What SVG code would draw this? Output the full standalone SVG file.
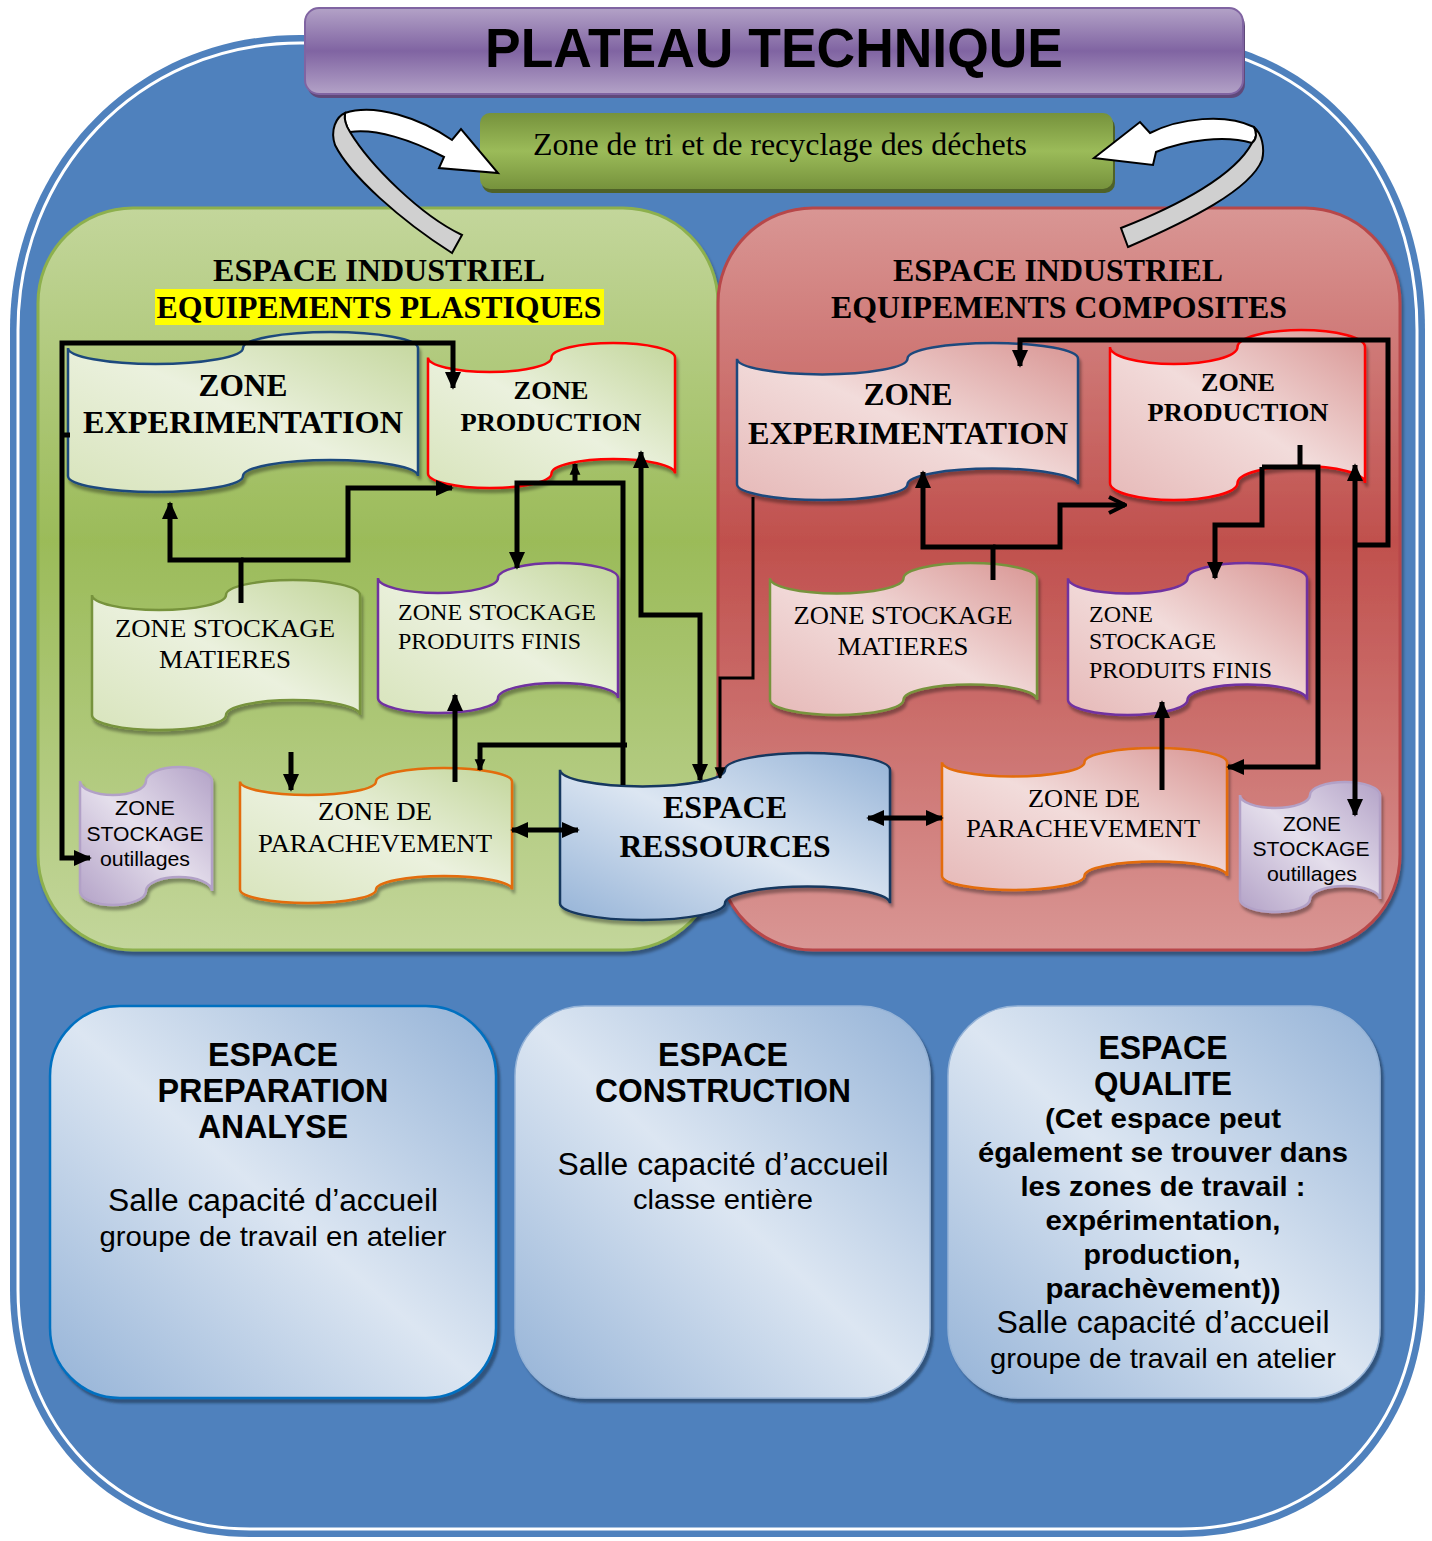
<svg xmlns="http://www.w3.org/2000/svg" width="1432" height="1541" viewBox="0 0 1432 1541">
  <defs>
    <style>
      .tape { stroke-width: 2.5; filter: url(#sh); }
      .tb { font-family: "Liberation Serif", "Times New Roman", serif; font-weight: bold; fill: #000; text-anchor: middle; }
      .tr { font-family: "Liberation Serif", "Times New Roman", serif; fill: #000; text-anchor: middle; }
      .sb { font-family: "Liberation Sans", Arial, sans-serif; font-weight: bold; fill: #000; text-anchor: middle; }
      .sr { font-family: "Liberation Sans", Arial, sans-serif; fill: #000; text-anchor: middle; }
      .left { text-anchor: start; }
      .conn { fill: none; stroke: #000; stroke-width: 5; stroke-linejoin: miter; }
      .thin { stroke-width: 3; }
      .room { filter: url(#shb); }
    </style>
    <linearGradient id="gNode" x1="1" y1="0" x2="0" y2="1">
      <stop offset="0" stop-color="#C3D69B"/>
      <stop offset="0.5" stop-color="#EBF1DE"/>
      <stop offset="1" stop-color="#D8E4BC"/>
    </linearGradient>
    <linearGradient id="rNode" x1="1" y1="0" x2="0" y2="1">
      <stop offset="0" stop-color="#D99694"/>
      <stop offset="0.5" stop-color="#F2DCDB"/>
      <stop offset="1" stop-color="#E6B9B8"/>
    </linearGradient>
    <linearGradient id="bNode" x1="1" y1="0" x2="0" y2="1">
      <stop offset="0" stop-color="#95B3D7"/>
      <stop offset="0.5" stop-color="#DCE6F2"/>
      <stop offset="1" stop-color="#95B3D7"/>
    </linearGradient>
    <linearGradient id="lNode" x1="1" y1="0" x2="0" y2="1">
      <stop offset="0" stop-color="#B3A2C7"/>
      <stop offset="0.5" stop-color="#E5DFEC"/>
      <stop offset="1" stop-color="#B3A2C7"/>
    </linearGradient>
    <linearGradient id="room" x1="0" y1="1" x2="1" y2="0">
      <stop offset="0" stop-color="#95B3D7"/>
      <stop offset="0.5" stop-color="#DCE6F2"/>
      <stop offset="1" stop-color="#95B3D7"/>
    </linearGradient>
    <linearGradient id="panelG" x1="0" y1="0" x2="0" y2="1">
      <stop offset="0" stop-color="#C3D69B"/>
      <stop offset="0.45" stop-color="#9BBB59"/>
      <stop offset="1" stop-color="#C3D69B"/>
    </linearGradient>
    <linearGradient id="panelR" x1="0" y1="0" x2="0" y2="1">
      <stop offset="0" stop-color="#D99694"/>
      <stop offset="0.45" stop-color="#C0504D"/>
      <stop offset="1" stop-color="#D99694"/>
    </linearGradient>
    <linearGradient id="titleG" x1="0" y1="0" x2="0" y2="1">
      <stop offset="0" stop-color="#B3A2C7"/>
      <stop offset="0.5" stop-color="#8064A2"/>
      <stop offset="1" stop-color="#B3A2C7"/>
    </linearGradient>
    <linearGradient id="triG" x1="0" y1="0" x2="0" y2="1">
      <stop offset="0" stop-color="#76923C"/>
      <stop offset="0.5" stop-color="#9BBB59"/>
      <stop offset="1" stop-color="#76923C"/>
    </linearGradient>
    <filter id="sh" x="-10%" y="-10%" width="125%" height="130%">
      <feDropShadow dx="2" dy="4" stdDeviation="1.5" flood-color="#000" flood-opacity="0.35"/>
    </filter>
    <filter id="shb" x="-10%" y="-10%" width="125%" height="125%">
      <feDropShadow dx="3" dy="4" stdDeviation="1" flood-color="#243F60" flood-opacity="0.7"/>
    </filter>
    <marker id="ah" viewBox="0 0 10 10" refX="9" refY="5" markerUnits="userSpaceOnUse" markerWidth="18" markerHeight="18" orient="auto-start-reverse">
      <path d="M0,0.5 L10,5 L0,9.5 z" fill="#000"/>
    </marker>
    <marker id="ahs" viewBox="0 0 10 10" refX="9" refY="5" markerUnits="userSpaceOnUse" markerWidth="12" markerHeight="12" orient="auto-start-reverse">
      <path d="M0,0.5 L10,5 L0,9.5 z" fill="#000"/>
    </marker>
    <marker id="chev" viewBox="0 0 10 10" refX="9" refY="5" markerUnits="userSpaceOnUse" markerWidth="20" markerHeight="20" orient="auto">
      <path d="M1,1 L9,5 L1,9" fill="none" stroke="#000" stroke-width="2"/>
    </marker>
  </defs>

  <rect width="1432" height="1541" fill="#fff"/>

  <!-- outer frame -->
  <path d="M300,35 H1150 C1320,35 1425,170 1425,330 V1290 C1425,1430 1330,1537 1180,1537 H250 C110,1537 10,1430 10,1290 V330 C10,170 130,35 300,35 Z" fill="#4F81BD"/>
  <path d="M300,43 H1150 C1314,43 1417,173 1417,330 V1290 C1417,1424 1325,1529 1180,1529 H250 C115,1529 18,1425 18,1290 V330 C18,175 135,43 300,43 Z" fill="none" stroke="#fff" stroke-width="3"/>

  <!-- title banner -->
  <g id="title">
    <rect x="307" y="12" width="938" height="86" rx="14" fill="#5F497A"/>
    <rect x="305" y="8" width="938" height="86" rx="14" fill="url(#titleG)" stroke="#8064A2" stroke-width="2"/>
    <text class="sb" x="774" y="67" font-size="56" textLength="578" lengthAdjust="spacingAndGlyphs">PLATEAU TECHNIQUE</text>
  </g>

  <!-- waste sorting zone -->
  <g id="zone-tri">
    <rect x="482" y="117" width="633" height="76" rx="10" fill="#4F6228"/>
    <rect x="480" y="113" width="633" height="76" rx="10" fill="url(#triG)"/>
    <text class="tr" x="780" y="155" font-size="31" textLength="494" lengthAdjust="spacingAndGlyphs">Zone de tri et de recyclage des déchets</text>
  </g>

  <!-- industrial panels -->
  <g id="panel-plastiques">
    <rect x="38" y="208" width="680" height="742" rx="95" fill="url(#panelG)" stroke="#8DB04E" stroke-width="3" filter="url(#sh)"/>
    <rect x="155" y="289" width="449" height="36" fill="#FFFF00"/>
    <text class="tb" x="379" y="281" font-size="32" textLength="332" lengthAdjust="spacingAndGlyphs">ESPACE INDUSTRIEL</text>
    <text class="tb" x="379" y="318" font-size="32" textLength="445" lengthAdjust="spacingAndGlyphs">EQUIPEMENTS PLASTIQUES</text>
  </g>
  <g id="panel-composites">
    <rect x="718" y="208" width="682" height="742" rx="95" fill="url(#panelR)" stroke="#B7474A" stroke-width="3" filter="url(#sh)"/>
    <text class="tb" x="1058" y="281" font-size="32" textLength="330" lengthAdjust="spacingAndGlyphs">ESPACE INDUSTRIEL</text>
    <text class="tb" x="1059" y="318" font-size="32" textLength="456" lengthAdjust="spacingAndGlyphs">EQUIPEMENTS COMPOSITES</text>
  </g>

  <!-- plastics zones -->
  <g id="p-experimentation">
    <path class="tape" d="M68,348 A87.5,16 0 0 0 243,348 A87.5,16 0 0 1 418,348 L418,476 A87.5,16 0 0 0 243,476 A87.5,16 0 0 1 68,476 Z" fill="url(#gNode)" stroke="#1F497D"/>
    <text class="tb" x="243" y="396" font-size="32" textLength="89" lengthAdjust="spacingAndGlyphs">ZONE</text>
    <text class="tb" x="243" y="433" font-size="32" textLength="320" lengthAdjust="spacingAndGlyphs">EXPERIMENTATION</text>
  </g>
  <g id="p-production">
    <path class="tape" d="M428,357.5 A61.75,14.5 0 0 0 551.5,357.5 A61.75,14.5 0 0 1 675,357.5 L675,473.5 A61.75,14.5 0 0 0 551.5,473.5 A61.75,14.5 0 0 1 428,473.5 Z" fill="url(#gNode)" stroke="#FF0000"/>
    <text class="tb" x="551" y="399" font-size="26" textLength="75" lengthAdjust="spacingAndGlyphs">ZONE</text>
    <text class="tb" x="551" y="431" font-size="26" textLength="181" lengthAdjust="spacingAndGlyphs">PRODUCTION</text>
  </g>
  <g id="p-stock-matieres">
    <path class="tape" d="M92,595 A67,15 0 0 0 226,595 A67,15 0 0 1 360,595 L360,715 A67,15 0 0 0 226,715 A67,15 0 0 1 92,715 Z" fill="url(#gNode)" stroke="#77933C"/>
    <text class="tr" x="225" y="637" font-size="26" textLength="220" lengthAdjust="spacingAndGlyphs">ZONE STOCKAGE</text>
    <text class="tr" x="225" y="668" font-size="26" textLength="132" lengthAdjust="spacingAndGlyphs">MATIERES</text>
  </g>
  <g id="p-stock-produits">
    <path class="tape" d="M378,578 A60,15 0 0 0 498,578 A60,15 0 0 1 618,578 L618,698 A60,15 0 0 0 498,698 A60,15 0 0 1 378,698 Z" fill="url(#gNode)" stroke="#7030A0"/>
    <text class="tr left" x="398" y="620" font-size="24" textLength="198" lengthAdjust="spacingAndGlyphs">ZONE STOCKAGE</text>
    <text class="tr left" x="398" y="649" font-size="24" textLength="183" lengthAdjust="spacingAndGlyphs">PRODUITS FINIS</text>
  </g>
  <g id="p-stock-outillages">
    <path class="tape" d="M80,781 A33,14 0 0 0 146,781 A33,14 0 0 1 212,781 L212,891 A33,14 0 0 0 146,891 A33,14 0 0 1 80,891 Z" fill="url(#lNode)" stroke="#B2A1C7" stroke-width="3"/>
    <text class="sr" x="145" y="815" font-size="21" textLength="60" lengthAdjust="spacingAndGlyphs">ZONE</text>
    <text class="sr" x="145" y="841" font-size="21" textLength="117" lengthAdjust="spacingAndGlyphs">STOCKAGE</text>
    <text class="sr" x="145" y="866" font-size="21" textLength="90" lengthAdjust="spacingAndGlyphs">outillages</text>
  </g>
  <g id="p-parachevement">
    <path class="tape" d="M240,781.5 A68,13.5 0 0 0 376,781.5 A68,13.5 0 0 1 512,781.5 L512,889.5 A68,13.5 0 0 0 376,889.5 A68,13.5 0 0 1 240,889.5 Z" fill="url(#gNode)" stroke="#E36C09"/>
    <text class="tr" x="375" y="820" font-size="26" textLength="114" lengthAdjust="spacingAndGlyphs">ZONE DE</text>
    <text class="tr" x="375" y="852" font-size="26" textLength="234" lengthAdjust="spacingAndGlyphs">PARACHEVEMENT</text>
  </g>

  <!-- composites zones -->
  <g id="c-experimentation">
    <path class="tape" d="M737,358.7 A85.25,15.7 0 0 0 907.5,358.7 A85.25,15.7 0 0 1 1078,358.7 L1078,484.3 A85.25,15.7 0 0 0 907.5,484.3 A85.25,15.7 0 0 1 737,484.3 Z" fill="url(#rNode)" stroke="#1F497D"/>
    <text class="tb" x="908" y="405" font-size="32" textLength="89" lengthAdjust="spacingAndGlyphs">ZONE</text>
    <text class="tb" x="908" y="444" font-size="32" textLength="320" lengthAdjust="spacingAndGlyphs">EXPERIMENTATION</text>
  </g>
  <g id="c-production">
    <path class="tape" d="M1110,347 A63.75,17 0 0 0 1237.5,347 A63.75,17 0 0 1 1365,347 L1365,483 A63.75,17 0 0 0 1237.5,483 A63.75,17 0 0 1 1110,483 Z" fill="url(#rNode)" stroke="#FF0000"/>
    <text class="tb" x="1238" y="391" font-size="26" textLength="74" lengthAdjust="spacingAndGlyphs">ZONE</text>
    <text class="tb" x="1238" y="421" font-size="26" textLength="181" lengthAdjust="spacingAndGlyphs">PRODUCTION</text>
  </g>
  <g id="c-stock-matieres">
    <path class="tape" d="M770,578.2 A66.75,15.2 0 0 0 903.5,578.2 A66.75,15.2 0 0 1 1037,578.2 L1037,699.8 A66.75,15.2 0 0 0 903.5,699.8 A66.75,15.2 0 0 1 770,699.8 Z" fill="url(#rNode)" stroke="#77933C"/>
    <text class="tr" x="903" y="624" font-size="26" textLength="219" lengthAdjust="spacingAndGlyphs">ZONE STOCKAGE</text>
    <text class="tr" x="903" y="655" font-size="26" textLength="131" lengthAdjust="spacingAndGlyphs">MATIERES</text>
  </g>
  <g id="c-stock-produits">
    <path class="tape" d="M1068,578.2 A59.75,15.2 0 0 0 1187.5,578.2 A59.75,15.2 0 0 1 1307,578.2 L1307,699.8 A59.75,15.2 0 0 0 1187.5,699.8 A59.75,15.2 0 0 1 1068,699.8 Z" fill="url(#rNode)" stroke="#7030A0"/>
    <text class="tr left" x="1089" y="622" font-size="24" textLength="64" lengthAdjust="spacingAndGlyphs">ZONE</text>
    <text class="tr left" x="1089" y="649" font-size="24" textLength="127" lengthAdjust="spacingAndGlyphs">STOCKAGE</text>
    <text class="tr left" x="1089" y="678" font-size="24" textLength="183" lengthAdjust="spacingAndGlyphs">PRODUITS FINIS</text>
  </g>
  <g id="c-parachevement">
    <path class="tape" d="M942,762.2 A71.25,14.2 0 0 0 1084.5,762.2 A71.25,14.2 0 0 1 1227,762.2 L1227,875.8 A71.25,14.2 0 0 0 1084.5,875.8 A71.25,14.2 0 0 1 942,875.8 Z" fill="url(#rNode)" stroke="#E36C09"/>
    <text class="tr" x="1084" y="807" font-size="26" textLength="112" lengthAdjust="spacingAndGlyphs">ZONE DE</text>
    <text class="tr" x="1083" y="837" font-size="26" textLength="234" lengthAdjust="spacingAndGlyphs">PARACHEVEMENT</text>
  </g>
  <g id="c-stock-outillages">
    <path class="tape" d="M1240,795 A35,13 0 0 0 1310,795 A35,13 0 0 1 1380,795 L1380,899 A35,13 0 0 0 1310,899 A35,13 0 0 1 1240,899 Z" fill="url(#lNode)" stroke="#B2A1C7" stroke-width="3"/>
    <text class="sr" x="1312" y="831" font-size="21" textLength="58" lengthAdjust="spacingAndGlyphs">ZONE</text>
    <text class="sr" x="1311" y="856" font-size="21" textLength="117" lengthAdjust="spacingAndGlyphs">STOCKAGE</text>
    <text class="sr" x="1312" y="881" font-size="21" textLength="90" lengthAdjust="spacingAndGlyphs">outillages</text>
  </g>

  <!-- shared resources -->
  <g id="espace-ressources">
    <path class="tape" d="M560,769.7 A82.5,16.7 0 0 0 725,769.7 A82.5,16.7 0 0 1 890,769.7 L890,903.3 A82.5,16.7 0 0 0 725,903.3 A82.5,16.7 0 0 1 560,903.3 Z" fill="url(#bNode)" stroke="#17375E"/>
    <text class="tb" x="725" y="818" font-size="32" textLength="124" lengthAdjust="spacingAndGlyphs">ESPACE</text>
    <text class="tb" x="725" y="857" font-size="32" textLength="211" lengthAdjust="spacingAndGlyphs">RESSOURCES</text>
  </g>

  <!-- connectors -->
  <g id="connectors">
    <!-- recycling ribbons -->
    <path d="M345,113 C375,103 420,118 452,140 L461,129 L498,173 L439,168 L444,157 C412,140 375,128 350,132 C346,126 344,119 345,113 Z" fill="#fff" stroke="#000" stroke-width="2"/>
    <path d="M350,132 C370,165 420,215 462,235 L452,253 C400,220 350,175 335,145 C330,130 336,117 345,113 C344,119 346,126 350,132 Z" fill="#D0D0D0" stroke="#000" stroke-width="2"/>
    <path d="M1254,127 C1225,113 1180,118 1150,133 L1140,122 L1094,158 L1153,165 L1156,152 C1185,140 1225,135 1252,143 C1257,139 1257,132 1254,127 Z" fill="#fff" stroke="#000" stroke-width="2"/>
    <path d="M1252,143 C1235,175 1180,205 1121,228 L1128,247 C1190,220 1250,190 1262,160 C1265,148 1262,134 1254,127 C1257,132 1257,139 1252,143 Z" fill="#D0D0D0" stroke="#000" stroke-width="2"/>

    <!-- plastics flows -->
    <path class="conn" d="M453,388 V343 H62 V858 H90" marker-start="url(#ah)" marker-end="url(#ah)"/>
    <path class="conn" d="M62,435 H70"/>
    <path class="conn" d="M241,603 V560 H170 V503" marker-end="url(#ah)"/>
    <path class="conn" d="M241,560 H348 V488 H452" marker-end="url(#ah)"/>
    <path class="conn" d="M575,483 V464" marker-end="url(#ahs)"/>
    <path class="conn" d="M517,568 V483 H623 V785" marker-start="url(#ah)"/>
    <path class="conn" d="M627,745 H480 V770" marker-end="url(#ahs)"/>
    <path class="conn" d="M641,452 V615 H700 V780" marker-start="url(#ah)" marker-end="url(#ah)"/>
    <path class="conn" d="M291,752 V790" marker-end="url(#ah)"/>
    <path class="conn" d="M455,782 V695" marker-end="url(#ah)"/>
    <path class="conn" d="M512,830 H578" marker-start="url(#ah)" marker-end="url(#ah)"/>

    <!-- composites flows -->
    <path class="conn thin" d="M753,497 V678 H720 V778" marker-end="url(#ahs)"/>
    <path class="conn" d="M993,580 V547 H923 V472" marker-end="url(#ah)"/>
    <path class="conn" d="M993,547 H1060 V505 H1125" marker-end="url(#chev)"/>
    <path class="conn" d="M1020,366 V340 H1388 V545 H1355" marker-start="url(#ah)"/>
    <path class="conn" d="M1355,465 V815" marker-start="url(#ah)" marker-end="url(#ah)"/>
    <path class="conn" d="M1300,445 V467"/>
    <path class="conn" d="M1262,467 H1318 V767 H1228" marker-end="url(#ah)"/>
    <path class="conn" d="M1262,467 V525 H1215 V578" marker-end="url(#ah)"/>
    <path class="conn" d="M1162,790 V702" marker-end="url(#ah)"/>
    <path class="conn" d="M868,818 H942" marker-start="url(#ah)" marker-end="url(#ah)"/>
  </g>

  <!-- rooms -->
  <g id="espace-preparation">
    <rect class="room" x="50" y="1006" width="446" height="392" rx="70" fill="url(#room)" stroke="#0070C0" stroke-width="2.5"/>
    <text class="sb" x="273" y="1066" font-size="33" textLength="130" lengthAdjust="spacingAndGlyphs">ESPACE</text>
    <text class="sb" x="273" y="1102" font-size="33" textLength="231" lengthAdjust="spacingAndGlyphs">PREPARATION</text>
    <text class="sb" x="273" y="1138" font-size="33" textLength="150" lengthAdjust="spacingAndGlyphs">ANALYSE</text>
    <text class="sr" x="273" y="1211" font-size="31" textLength="330" lengthAdjust="spacingAndGlyphs">Salle capacité d’accueil</text>
    <text class="sr" x="273" y="1246" font-size="28" textLength="347" lengthAdjust="spacingAndGlyphs">groupe de travail en atelier</text>
  </g>
  <g id="espace-construction">
    <rect class="room" x="515" y="1006" width="415" height="392" rx="70" fill="url(#room)" stroke="#95B3D7" stroke-width="1.5"/>
    <text class="sb" x="723" y="1066" font-size="33" textLength="130" lengthAdjust="spacingAndGlyphs">ESPACE</text>
    <text class="sb" x="723" y="1102" font-size="33" textLength="256" lengthAdjust="spacingAndGlyphs">CONSTRUCTION</text>
    <text class="sr" x="723" y="1175" font-size="31" textLength="331" lengthAdjust="spacingAndGlyphs">Salle capacité d’accueil</text>
    <text class="sr" x="723" y="1209" font-size="28" textLength="180" lengthAdjust="spacingAndGlyphs">classe entière</text>
  </g>
  <g id="espace-qualite">
    <rect class="room" x="948" y="1006" width="432" height="392" rx="70" fill="url(#room)" stroke="#95B3D7" stroke-width="1.5"/>
    <text class="sb" x="1163" y="1059" font-size="33" textLength="129" lengthAdjust="spacingAndGlyphs">ESPACE</text>
    <text class="sb" x="1163" y="1095" font-size="33" textLength="138" lengthAdjust="spacingAndGlyphs">QUALITE</text>
    <text class="sb" x="1163" y="1128" font-size="27" textLength="236" lengthAdjust="spacingAndGlyphs">(Cet espace peut</text>
    <text class="sb" x="1163" y="1162" font-size="27" textLength="370" lengthAdjust="spacingAndGlyphs">également se trouver dans</text>
    <text class="sb" x="1163" y="1196" font-size="27" textLength="285" lengthAdjust="spacingAndGlyphs">les zones de travail :</text>
    <text class="sb" x="1163" y="1230" font-size="27" textLength="235" lengthAdjust="spacingAndGlyphs">expérimentation,</text>
    <text class="sb" x="1162" y="1264" font-size="27" textLength="157" lengthAdjust="spacingAndGlyphs">production,</text>
    <text class="sb" x="1163" y="1298" font-size="27" textLength="235" lengthAdjust="spacingAndGlyphs">parachèvement))</text>
    <text class="sr" x="1163" y="1333" font-size="31" textLength="333" lengthAdjust="spacingAndGlyphs">Salle capacité d’accueil</text>
    <text class="sr" x="1163" y="1368" font-size="28" textLength="346" lengthAdjust="spacingAndGlyphs">groupe de travail en atelier</text>
  </g>
</svg>
